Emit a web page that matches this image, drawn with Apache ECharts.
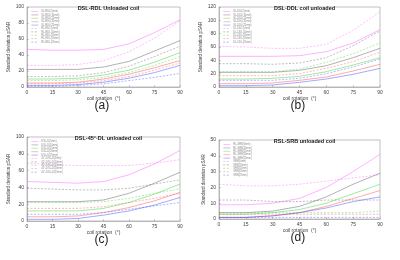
<!DOCTYPE html>
<html>
<head>
<meta charset="utf-8">
<script src="https://cdn.jsdelivr.net/npm/echarts@6/dist/echarts.min.js"></script>
<style>
html,body{margin:0;padding:0;background:#fff;}
#main{width:400px;height:260px;}
</style>
</head>
<body>
<div id="main"></div>
<script>
// coil rotation angles (deg)
var angles = [0, 15, 30, 45, 60, 75, 90];

// (a) DSL-RDL unloaded coil
var namesA = ['SL-RDL(5mm)','SL-RDL(10mm)','SL-RDL(15mm)','SL-RDL(20mm)','SL-RDL(25mm)',
              'RL-RDL(5mm)','RL-RDL(10mm)','RL-RDL(15mm)','RL-RDL(20mm)','RL-RDL(25mm)'];
var a_mag  = [47, 46, 46, 47, 54, 68, 84];
var a_gray = [22, 22, 22, 25, 32, 45, 58];
var a_grn  = [10, 10, 11, 15, 21, 31, 43];
var a_red  = [5, 5, 6, 10, 16, 24, 33];
var a_blu  = [2, 2, 3, 6, 11, 18, 27];
var a_magD  = [27, 27, 28, 33, 44, 61, 83];
var a_grayD = [13, 13, 14, 18, 26, 38, 51];
var a_grnD  = [8, 8, 9, 12, 18, 27, 38];
var a_redD  = [4, 4, 5, 8, 13, 21, 30];
var a_bluD  = [1, 1, 2, 4, 8, 12, 17];

// (b) DSL-DDL coil unloaded
var namesB = ['SL-DDL(5mm)','SL-DDL(10mm)','SL-DDL(15mm)','SL-DDL(20mm)','SL-DDL(25mm)',
              'DL-DDL(5mm)','DL-DDL(10mm)','DL-DDL(15mm)','DL-DDL(20mm)','DL-DDL(25mm)'];
var b_mag  = [46, 46, 46, 47, 53, 66, 86];
var b_gray = [22, 22, 22, 25, 32, 44, 58];
var b_grn  = [12, 12, 13, 16, 23, 33, 44];
var b_red  = [5, 5, 6, 10, 15, 24, 34];
var b_blu  = [2, 2, 3, 7, 12, 19, 28];
var b_magD  = [61, 60, 58, 58, 64, 85, 113];
var b_grayD = [35, 35, 34, 36, 44, 62, 84];
var b_grnD  = [23, 23, 23, 27, 37, 50, 66];
var b_redD  = [17, 17, 17, 20, 28, 38, 52];
var b_bluD  = [10, 10, 10, 13, 20, 30, 42];

// (c) DSL-45°-DL unloaded coil
var namesC = ['DSL-D(5mm)','DSL-D(10mm)','DSL-D(15mm)','DSL-D(20mm)','DSL-D(25mm)',
              '45°-DSL-D(5mm)','45°-DSL-D(10mm)','45°-DSL-D(15mm)','45°-DSL-D(20mm)','45°-DSL-D(25mm)'];
var c_mag  = [47, 46, 45, 47, 55, 68, 84];
var c_gray = [23, 23, 23, 25, 33, 45, 58];
var c_grn  = [12, 12, 12, 15, 22, 32, 44];
var c_red  = [5, 5, 6, 10, 16, 24, 34];
var c_blu  = [2, 2, 3, 7, 12, 19, 28];
var c_magD  = [69, 67, 66, 66, 66, 69, 73];
var c_grayD = [39, 38, 37, 37, 39, 44, 49];
var c_grnD  = [22, 22, 22, 23, 27, 33, 38];
var c_redD  = [15, 15, 15, 17, 22, 27, 33];
var c_bluD  = [8, 8, 8, 10, 14, 18, 22];

// (d) RSL-SRB unloaded coil
var namesD = ['RL-SRB(5mm)','RL-SRB(10mm)','RL-SRB(15mm)','RL-SRB(20mm)','RL-SRB(25mm)',
              'SRB(5mm)','SRB(10mm)','SRB(15mm)','SRB(20mm)','SRB(25mm)'];
var d_mag  = [9, 9, 10, 13, 20, 30, 41];
var d_gray = [4, 4, 5, 8, 14, 22, 29];
var d_grn  = [3, 3, 4, 6, 10, 16, 22];
var d_red  = [1, 1, 2, 4, 8, 13, 18];
var d_blu  = [1, 1, 2, 4, 7, 11, 14];
var d_magD  = [22, 21, 21, 22, 24, 26, 28];
var d_grayD = [12, 12, 11, 11, 12, 12, 12];
var d_grnD  = [4, 4, 4, 4, 4, 4, 5];
var d_redD  = [3, 3, 3, 3, 3, 3, 3];
var d_bluD  = [1, 1, 1, 1, 1, 1, 1];

var titles = ['DSL-RDL Unloaded coil', 'DSL-DDL coil unloaded', 'DSL-45°-DL unloaded coil', 'RSL-SRB unloaded coil'];
var letters = ['(a)', '(b)', '(c)', '(d)'];
var yMax = [100, 120, 100, 50];
var yStep = [20, 20, 20, 10];

var panels = [
    [a_mag, a_gray, a_grn, a_red, a_blu, a_magD, a_grayD, a_grnD, a_redD, a_bluD],
    [b_mag, b_gray, b_grn, b_red, b_blu, b_magD, b_grayD, b_grnD, b_redD, b_bluD],
    [c_mag, c_gray, c_grn, c_red, c_blu, c_magD, c_grayD, c_grnD, c_redD, c_bluD],
    [d_mag, d_gray, d_grn, d_red, d_blu, d_magD, d_grayD, d_grnD, d_redD, d_bluD]
];
var panelNames = [namesA, namesB, namesC, namesD];
var colors = ['#ff55ff', '#555555', '#33cc33', '#ff4444', '#3344ff'];

// plot boxes [left, top, width, height]
var boxes = [[27, 7, 153, 80], [219, 7, 161, 80], [27, 137, 153, 84], [219, 140, 161, 79]];

var grids = [], xAxes = [], yAxes = [], series = [], legends = [], texts = [];
for (var p = 0; p < 4; p++) {
    var bx = boxes[p];
    grids.push({left: bx[0], top: bx[1], width: bx[2], height: bx[3],
        show: true, borderColor: '#999', borderWidth: 0.6, backgroundColor: '#fff'});
    xAxes.push({
        type: 'value', gridIndex: p, min: 0, max: 90, interval: 15,
        name: 'coil rotation  (°)', nameLocation: 'middle', nameGap: 8,
        nameTextStyle: {fontSize: 5, color: '#444', fontFamily: 'Liberation Sans'},
        axisLine: {lineStyle: {color: '#999', width: 0.6}},
        axisTick: {inside: true, length: 2, lineStyle: {color: '#999', width: 0.5}},
        axisLabel: {fontSize: 5, color: '#444', margin: 3, fontFamily: 'Liberation Sans'},
        splitLine: {show: false}
    });
    yAxes.push({
        type: 'value', gridIndex: p, min: 0, max: yMax[p], interval: yStep[p],
        name: 'Standard deviation pSAR', nameLocation: 'middle', nameGap: 12,
        nameTextStyle: {fontSize: 4.5, color: '#444', fontFamily: 'Liberation Sans'},
        axisLine: {lineStyle: {color: '#999', width: 0.6}},
        axisTick: {inside: true, length: 2, lineStyle: {color: '#999', width: 0.5}},
        axisLabel: {fontSize: 5, color: '#444', margin: 3, fontFamily: 'Liberation Sans'},
        splitLine: {show: false}
    });
    var vals = panels[p];
    for (var s = 0; s < vals.length; s++) {
        var pts = [];
        for (var i = 0; i < angles.length; i++) pts.push([angles[i], vals[s][i]]);
        var dashed = s >= 5;
        series.push({
            name: panelNames[p][s], type: 'line', xAxisIndex: p, yAxisIndex: p,
            data: pts, symbol: 'none', silent: true,
            lineStyle: {color: colors[s % 5], width: 0.7, opacity: dashed ? 0.55 : 0.65,
                type: dashed ? [2, 1.5] : 'solid'},
            itemStyle: {color: colors[s % 5]}
        });
    }
    legends.push({
        data: panelNames[p], orient: 'vertical', left: bx[0] + 4, top: bx[1] + 3,
        itemWidth: 7, itemHeight: 2.4, itemGap: 0.4, padding: 0,
        selectedMode: false,
        itemStyle: {opacity: 0},
        lineStyle: {width: 0.6, opacity: 0.6},
        textStyle: {fontSize: 2.6, color: '#888', padding: [0, 0, 0, -2]}
    });
    texts.push({
        type: 'text', left: bx[0] + bx[2] / 2 - 9, top: bx[1] + bx[3] + 13,
        style: {text: letters[p], fontSize: 12, fill: '#222', fontFamily: 'Liberation Sans'}
    });
}

var myChart = echarts.init(document.getElementById('main'), null, {renderer: 'canvas'});
var option = {
    backgroundColor: '#FFFFFF',
    animation: false,
    title: titles.map(function (t, p) {
        return {
            text: t, left: boxes[p][0] + boxes[p][2] / 2, top: boxes[p][1] - 6.5,
            textAlign: 'center',
            textStyle: {fontSize: 5.5, fontWeight: 'bold', color: '#222', fontFamily: 'Liberation Sans'}
        };
    }),
    grid: grids,
    xAxis: xAxes,
    yAxis: yAxes,
    legend: legends,
    graphic: texts,
    series: series
};
myChart.setOption(option);
</script>
</body>
</html>
